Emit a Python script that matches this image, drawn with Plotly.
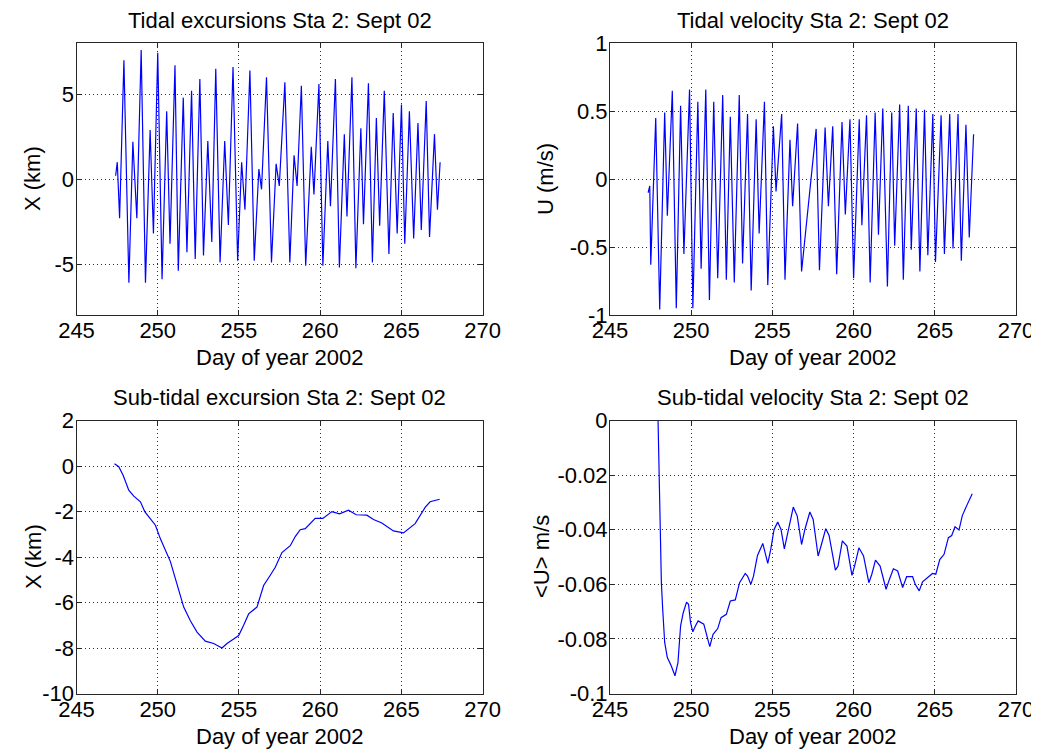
import plotly.graph_objects as go

# ---------------- data ----------------
# Tidal excursion X (km), top-left: extrema of the record
tidal_x_day = [247.408, 247.51, 247.653, 247.918, 248.224, 248.469, 248.714, 248.98, 249.245, 249.531,
               249.735, 250.0, 250.265, 250.551, 250.755, 251.061, 251.265, 251.571, 251.796, 252.082,
               252.306, 252.592, 252.816, 253.082, 253.327, 253.571, 253.837, 254.122, 254.347, 254.633,
               254.918, 255.163, 255.367, 255.673, 255.939, 256.224, 256.388, 256.694, 257.0, 257.286,
               257.48, 257.825, 258.13, 258.39, 258.577, 258.84, 259.106, 259.45, 259.614, 259.92,
               260.163, 260.467, 260.63, 260.935, 261.179, 261.484, 261.646, 261.951, 262.195, 262.5,
               262.663, 262.967, 263.211, 263.455, 263.659, 263.943, 264.228, 264.492, 264.736, 265.0,
               265.203, 265.488, 265.752, 266.016, 266.22, 266.524, 266.728, 267.033, 267.215, 267.378]
tidal_x_km = [0.2, 1.0, -2.3, 7.0, -6.1, 2.2, -2.3, 7.6, -6.1, 2.9,
              -3.2, 7.45, -5.9, 4.0, -3.8, 6.7, -5.4, 4.8, -4.3, 5.2,
              -4.7, 5.9, -4.5, 2.25, -3.7, 6.5, -4.9, 2.25, -2.7, 6.6,
              -4.8, 1.0, -1.8, 6.4, -4.8, 0.6, -0.6, 6.0, -4.9, 0.9,
              -0.4, 5.7, -4.9, 1.4, -0.4, 5.5, -5.1, 1.9, -0.9, 5.6,
              -5.1, 2.25, -1.6, 5.9, -5.2, 2.65, -2.2, 6.0, -5.25, 3.0,
              -2.65, 5.65, -4.9, 3.6, -2.75, 5.2, -4.4, 3.9, -3.2, 4.4,
              -3.8, 4.0, -3.5, 3.3, -3.0, 4.6, -3.4, 2.65, -1.8, 1.0]

# Tidal velocity U (m/s), top-right: extrema of the record
tidal_u_day = [247.347, 247.449, 247.51, 247.816, 248.061, 248.367, 248.531, 248.837, 249.082, 249.347,
               249.551, 249.898, 250.102, 250.408, 250.612, 250.898, 251.122, 251.388, 251.633, 251.939,
               252.163, 252.408, 252.653, 252.959, 253.163, 253.469, 253.694, 254.0, 254.184, 254.51,
               254.714, 255.061, 255.224, 255.571, 255.776, 256.082, 256.245, 256.551, 256.796, 257.694,
               257.898, 258.245, 258.449, 258.714, 258.959, 259.286, 259.49, 259.776, 260.0, 260.347,
               260.51, 260.796, 261.02, 261.327, 261.531, 261.796, 262.082, 262.347, 262.531, 262.837,
               263.061, 263.367, 263.551, 263.857, 264.082, 264.367, 264.571, 264.878, 265.041, 265.388,
               265.592, 265.918, 266.122, 266.429, 266.633, 266.918, 267.122, 267.388]
tidal_u_ms = [-0.10, -0.05, -0.63, 0.45, -0.96, 0.49, -0.27, 0.65, -0.95, 0.54,
              -0.55, 0.66, -0.95, 0.57, -0.66, 0.66, -0.89, 0.57, -0.73, 0.62,
              -0.74, 0.46, -0.76, 0.62, -0.62, 0.48, -0.82, 0.44, -0.40, 0.57,
              -0.78, 0.39, -0.09, 0.48, -0.74, 0.29, -0.20, 0.41, -0.68, 0.37,
              -0.67, 0.38, -0.20, 0.39, -0.70, 0.42, -0.26, 0.44, -0.73, 0.44,
              -0.34, 0.47, -0.76, 0.49, -0.41, 0.52, -0.79, 0.49, -0.49, 0.55,
              -0.74, 0.54, -0.52, 0.52, -0.68, 0.51, -0.56, 0.48, -0.61, 0.47,
              -0.55, 0.48, -0.51, 0.48, -0.60, 0.40, -0.43, 0.33]

# Sub-tidal excursion X (km), bottom-left
sub_x_day = [247.336, 247.602, 247.869, 248.217, 248.525, 248.934, 249.201, 249.549, 249.857, 250.164,
             250.779, 251.189, 251.598, 252.008, 252.418, 252.93, 253.443, 253.955, 254.262, 254.672,
             254.98, 255.287, 255.594, 256.107, 256.516, 256.926, 257.234, 257.643, 258.156, 258.463,
             258.77, 259.078, 259.693, 260.164, 260.717, 261.189, 261.742, 262.213, 262.869, 263.279,
             263.791, 264.508, 265.123, 265.84, 266.455, 266.762, 267.172, 267.35]
sub_x_km = [0.1, -0.03, -0.4, -1.06, -1.32, -1.57, -2.0, -2.3, -2.6, -3.2,
            -4.2, -5.2, -6.2, -6.8, -7.3, -7.7, -7.8, -8.0, -7.8, -7.6,
            -7.45, -7.0, -6.5, -6.2, -5.25, -4.8, -4.45, -3.8, -3.5, -3.1,
            -2.8, -2.75, -2.3, -2.3, -2.0, -2.1, -1.94, -2.14, -2.16, -2.35,
            -2.5, -2.85, -2.94, -2.53, -1.82, -1.57, -1.47, -1.46]

# Sub-tidal velocity <U> (m/s), bottom-right
sub_u_day = [247.959, 248.02, 248.082, 248.163, 248.245, 248.367, 248.531, 248.776, 249.0, 249.184,
             249.347, 249.51, 249.714, 249.837, 249.959, 250.102, 250.265, 250.429, 250.776, 250.98,
             251.143, 251.347, 251.633, 251.837, 252.163, 252.408, 252.714, 252.98, 253.327, 253.469,
             253.673, 253.837, 254.082, 254.408, 254.714, 254.898, 255.102, 255.327, 255.531, 255.735,
             255.939, 256.286, 256.531, 256.796, 257.0, 257.306, 257.51, 257.816, 258.02, 258.286,
             258.49, 258.878, 259.041, 259.306, 259.592, 259.898, 260.061, 260.327, 260.612, 260.939,
             261.122, 261.347, 261.633, 262.0, 262.204, 262.449, 262.714, 263.02, 263.265, 263.633,
             263.796, 264.041, 264.245, 264.551, 264.857, 265.061, 265.306, 265.571, 265.837, 266.041,
             266.245, 266.49, 266.694, 267.0, 267.306]
sub_u_ms = [0.0, -0.0204, -0.0448, -0.0594, -0.0691, -0.0813, -0.0868, -0.0899, -0.0935, -0.0887,
            -0.0752, -0.0704, -0.0665, -0.0673, -0.0740, -0.0774, -0.0752, -0.0734, -0.0746, -0.0789,
            -0.0828, -0.0783, -0.0762, -0.0722, -0.0710, -0.0661, -0.0657, -0.0594, -0.0560, -0.0570,
            -0.0600, -0.0570, -0.0494, -0.0450, -0.0523, -0.0472, -0.0399, -0.0372, -0.0399, -0.0470,
            -0.0411, -0.0317, -0.0350, -0.0454, -0.0399, -0.0335, -0.0362, -0.0496, -0.0454, -0.0396,
            -0.0421, -0.0548, -0.0533, -0.0441, -0.0460, -0.0567, -0.0533, -0.0466, -0.0496, -0.0594,
            -0.0563, -0.0511, -0.0533, -0.0618, -0.0582, -0.0543, -0.0551, -0.0612, -0.0572, -0.0572,
            -0.0600, -0.0624, -0.0591, -0.0576, -0.0560, -0.0563, -0.0509, -0.0490, -0.0429, -0.0421,
            -0.0389, -0.0401, -0.0348, -0.0307, -0.0268]

# Tick values / labels
day_ticks = [245, 250, 255, 260, 265, 270]
day_labels = ["245", "250", "255", "260", "265", "270"]
x_ticks = [-5, 0, 5]
x_labels = ["-5", "0", "5"]
u_ticks = [-1, -0.5, 0, 0.5, 1]
u_labels = ["-1", "-0.5", "0", "0.5", "1"]
subx_ticks = [-10, -8, -6, -4, -2, 0, 2]
subx_labels = ["-10", "-8", "-6", "-4", "-2", "0", "2"]
subu_ticks = [-0.1, -0.08, -0.06, -0.04, -0.02, 0]
subu_labels = ["-0.1", "-0.08", "-0.06", "-0.04", "-0.02", "0"]

titles = ["Tidal excursions Sta 2: Sept 02", "Tidal velocity Sta 2: Sept 02",
          "Sub-tidal excursion Sta 2: Sept 02", "Sub-tidal velocity Sta 2: Sept 02"]
xlabel = "Day of year 2002"
ylabels = ["X (km)", "U (m/s)", "X (km)", "<U> m/s"]

# ---------------- figure ----------------
# The page body keeps its default 8px margin, so the figure starts 8px in;
# it is sized to end at the window edge and all positions below are page pixels.
PW, PH = 1039, 753
OFF = 8
W, H = PW - OFF, PH - OFF
FONT = "Liberation Sans, Arial, Helvetica, sans-serif"
FS = 22
LINE = "#0000FF"
FRAME = "#262626"


def px(x):
    return (x - OFF) / W


def py(y):
    return 1 - (y - OFF) / H


XL = [px(76.5), px(482.7)]
XR = [px(610.0), px(1016.0)]
YT = [py(315.0), py(43.3)]
YB = [py(693.5), py(420.6)]

fig = go.Figure()
series = [(tidal_x_day, tidal_x_km, "x", "y"),
          (tidal_u_day, tidal_u_ms, "x2", "y2"),
          (sub_x_day, sub_x_km, "x3", "y3"),
          (sub_u_day, sub_u_ms, "x4", "y4")]
for xs, ys, xa, ya in series:
    fig.add_trace(go.Scatter(x=xs, y=ys, xaxis=xa, yaxis=ya, mode="lines",
                             line=dict(color=LINE, width=1.2), showlegend=False,
                             cliponaxis=True))

common = dict(showline=True, linecolor=FRAME, linewidth=1, mirror="ticks",
              ticks="inside", ticklen=5, tickcolor=FRAME, tickwidth=1,
              showgrid=True, gridcolor="#303030", gridwidth=1, griddash="1px,3px",
              zeroline=False, tickfont=dict(family=FONT, size=FS, color="black"),
              automargin=False, fixedrange=True, ticklabeloverflow="allow")


def xax(dom, anchor):
    return dict(common, domain=dom, anchor=anchor, range=[245, 270],
                tickmode="array", tickvals=day_ticks, ticktext=day_labels,
                ticklabelstandoff=-4)


def yax(dom, anchor, rng, tv, tt):
    return dict(common, domain=dom, anchor=anchor, range=rng,
                tickmode="array", tickvals=tv, ticktext=tt, ticklabelstandoff=-3)


fig.update_layout(
    width=W, height=H, margin=dict(l=0, r=0, t=0, b=0),
    paper_bgcolor="white", plot_bgcolor="white", template="none",
    font=dict(family=FONT, size=FS, color="black"),
    xaxis=xax(XL, "y"), yaxis=yax(YT, "x", [-8, 8], x_ticks, x_labels),
    xaxis2=xax(XR, "y2"), yaxis2=yax(YT, "x2", [-1, 1], u_ticks, u_labels),
    xaxis3=xax(XL, "y3"), yaxis3=yax(YB, "x3", [-10, 2], subx_ticks, subx_labels),
    xaxis4=xax(XR, "y4"), yaxis4=yax(YB, "x4", [-0.1, 0], subu_ticks, subu_labels),
)

ann = []


def esc(s):
    return s.replace("&", "&amp;").replace("<", "&lt;").replace(">", "&gt;")


def A(text, xpx, ypx, angle=0):
    ann.append(dict(text=esc(text), x=px(xpx), y=py(ypx), xref="paper", yref="paper",
                    xanchor="center", yanchor="middle", showarrow=False, textangle=angle,
                    font=dict(family=FONT, size=FS, color="black")))


cxl = (76.5 + 482.7) / 2
cxr = (610.0 + 1016.0) / 2
A(titles[0], cxl, 20)
A(titles[1], cxr, 20)
A(titles[2], cxl, 397)
A(titles[3], cxr, 397)
A(xlabel, cxl, 357)
A(xlabel, cxr, 357)
A(xlabel, cxl, 736)
A(xlabel, cxr, 736)
A(ylabels[0], 33, 179, -90)
A(ylabels[1], 546, 179, -90)
A(ylabels[2], 33, 557, -90)
A(ylabels[3], 541, 557, -90)
fig.update_layout(annotations=ann)

fig.write_html("out.html")
